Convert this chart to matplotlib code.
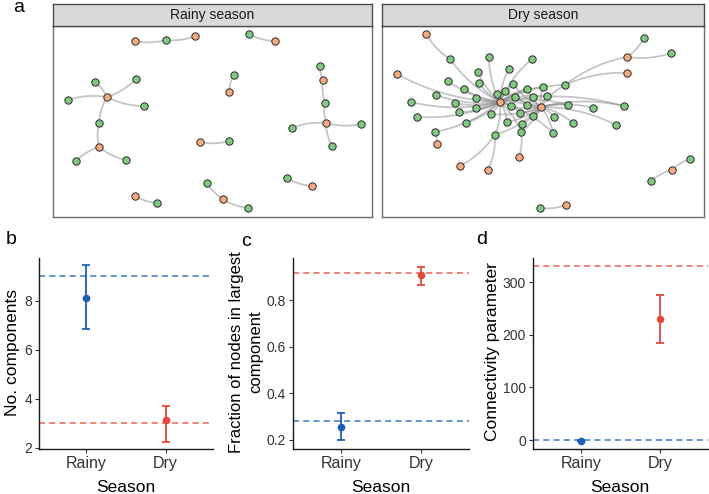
import numpy as np
import matplotlib
matplotlib.use("Agg")
import matplotlib.pyplot as plt

plt.rcParams['font.family'] = ['Liberation Sans', 'DejaVu Sans']

W, H = 709, 494

# ---- network data (node positions, pixel units) ----
rainy_x = [135, 166, 195, 249, 275, 107, 95, 136, 68, 144, 99, 99, 76, 126, 234, 229,
           320, 323, 325, 326, 292, 361, 332, 200, 229, 287, 312, 135, 157, 207, 223, 248]
rainy_y = [41, 40, 36, 34, 41, 97, 82, 79, 100, 106, 123, 147, 161, 160, 75, 92,
           66, 80, 103, 123, 128, 124, 146, 142, 141, 178, 186, 196, 203, 183, 199, 208]
rainy_kind = ['o', 'g', 'o', 'g', 'o', 'o', 'g', 'g', 'g', 'g', 'g', 'o', 'g', 'g', 'g', 'o',
              'g', 'o', 'g', 'o', 'g', 'g', 'g', 'o', 'g', 'g', 'o', 'o', 'g', 'g', 'o', 'g']
rainy_edges = [(0, 1), (1, 2), (3, 4), (5, 6), (5, 7), (5, 8), (5, 9), (5, 10), (10, 11),
               (11, 12), (11, 13), (14, 15), (16, 17), (17, 18), (18, 19), (19, 20),
               (19, 21), (19, 22), (23, 24), (25, 26), (27, 28), (29, 30), (30, 31)]

dry_x = [500, 541, 426, 397, 437, 460, 488, 519, 627, 627, 672, 566,
         450, 489, 532, 478, 509, 448, 479, 464, 513, 527, 543, 436, 476, 497, 505, 515,
         533, 547, 411, 455, 476, 511, 527, 417, 459, 491, 520, 533, 466, 507, 522, 435,
         521, 553, 495, 644, 671, 565, 568, 593, 624, 554, 573, 616, 690, 651, 540]
dry_y = [102, 107, 34, 74, 144, 166, 170, 157, 57, 73, 170, 205,
         59, 57, 59, 72, 69, 81, 83, 89, 84, 89, 87, 95, 98, 94, 91, 97,
         97, 96, 102, 103, 108, 106, 105, 117, 112, 114, 113, 116, 123, 122, 124, 132,
         132, 133, 135, 38, 53, 85, 105, 108, 106, 117, 123, 125, 159, 181, 208]
dry_kind = ['o'] * 12 + ['g'] * 47
dry_edges = [(2, 12), (12, 0), (3, 0), (13, 0), (14, 0), (15, 0), (16, 0), (17, 0),
             (18, 0), (19, 0), (20, 0), (20, 1), (21, 1), (21, 0), (22, 1), (22, 0),
             (23, 0), (24, 0), (25, 0), (26, 0), (26, 1), (27, 1), (27, 0), (28, 1),
             (29, 1), (29, 0), (30, 0), (31, 0), (32, 0), (33, 0), (33, 1), (34, 1),
             (34, 0), (35, 0), (36, 0), (37, 0), (37, 1), (38, 1), (38, 0), (39, 1),
             (40, 0), (41, 0), (41, 1), (42, 1), (43, 0), (4, 43), (44, 1), (44, 0),
             (7, 44), (45, 1), (45, 0), (46, 0), (46, 1), (5, 46), (6, 46),
             (49, 0), (49, 1), (8, 49), (9, 49), (8, 47), (8, 48),
             (50, 1), (51, 1), (52, 1), (53, 1), (54, 1), (55, 1), (50, 0), (52, 0),
             (56, 10), (10, 57), (58, 11)]

# ---- summary data ----
seasons = ['Rainy', 'Dry']
comp_mean = [8.13, 3.15]
comp_lo = [6.86, 2.22]
comp_hi = [9.48, 3.72]
comp_null = [9, 3]

frac_mean = [0.257, 0.907]
frac_lo = [0.198, 0.866]
frac_hi = [0.316, 0.943]
frac_null = [0.282, 0.916]

conn_mean = [-1, 231]
conn_lo = [-2, 185]
conn_hi = [0, 275]
conn_null = [0, 331]

season_colors = ['#1d5fb8', '#e2493b']
node_colors = {'o': '#f4aa7e', 'g': '#82c880'}


def px_axes(fig, x0, y0, x1, y1):
    return fig.add_axes([x0 / W, (H - y1) / H, (x1 - x0) / W, (y1 - y0) / H])


def arc(p, q, bend=0.12, n=24):
    t = np.linspace(0, 1, n)[:, None]
    d = q - p
    c = (p + q) / 2 + bend * np.array([-d[1], d[0]])
    return (1 - t) ** 2 * p + 2 * (1 - t) * t * c + t ** 2 * q


def draw_network(fig, box, title, xs, ys, kinds, edges):
    x0, y0, x1, y1 = box
    ax = px_axes(fig, x0, y0, x1, y1)
    ax.set_xlim(x0, x1)
    ax.set_ylim(y1, y0)
    pts = np.column_stack([xs, ys]).astype(float)
    for i, j in edges:
        c = arc(pts[i], pts[j])
        ax.plot(c[:, 0], c[:, 1], color='#8c8c8c', lw=1.3, alpha=0.5,
                solid_capstyle='round', zorder=1)
    for k in ['g', 'o']:
        idx = [i for i in range(len(kinds)) if kinds[i] == k]
        ax.plot(pts[idx, 0], pts[idx, 1], 'o', ms=5.3, mfc=node_colors[k],
                mec='#2b2b2b', mew=0.7, zorder=3)
    ax.set_xticks([])
    ax.set_yticks([])
    for s in ax.spines.values():
        s.set_color('#6e6e6e')
        s.set_linewidth(1.0)
    st = px_axes(fig, x0, 4, x1, y0)
    st.set_facecolor('#d9d9d9')
    st.set_xticks([])
    st.set_yticks([])
    for s in st.spines.values():
        s.set_color('#4d4d4d')
        s.set_linewidth(1.0)
    st.text(0.5, 0.48, title, ha='center', va='center', fontsize=10,
            color='#1a1a1a', transform=st.transAxes)


def draw_summary(fig, box, means, lo, hi, null, ylim, yticks, yticklabels):
    ax = px_axes(fig, *box)
    xpos = np.arange(1, len(seasons) + 1)
    for i in range(len(seasons)):
        ax.axhline(null[i], color=season_colors[i], lw=1.1, ls=(0, (4, 2.7)),
                   alpha=0.85, zorder=1)
        ax.errorbar(xpos[i], means[i],
                    yerr=[[means[i] - lo[i]], [hi[i] - means[i]]],
                    fmt='o', color=season_colors[i], ms=4.5, elinewidth=1.3,
                    capsize=3, capthick=1.3, zorder=3)
    ax.set_xlim(0.4, 2.6)
    ax.set_ylim(*ylim)
    ax.set_xticks(xpos)
    ax.set_xticklabels(seasons)
    ax.set_yticks(yticks)
    ax.set_yticklabels(yticklabels)
    ax.tick_params(length=3, width=0.8, color='#333333', labelcolor='#333333', pad=2)
    ax.tick_params(axis='x', labelsize=11.5)
    ax.tick_params(axis='y', labelsize=10)
    for s in ['top', 'right']:
        ax.spines[s].set_visible(False)
    for s in ['left', 'bottom']:
        ax.spines[s].set_linewidth(1.0)
        ax.spines[s].set_color('#1a1a1a')
    return ax


fig = plt.figure(figsize=(W / 100, H / 100), dpi=100)

draw_network(fig, (53, 26, 372, 217), 'Rainy season', rainy_x, rainy_y, rainy_kind, rainy_edges)
draw_network(fig, (382, 26, 704, 217), 'Dry season', dry_x, dry_y, dry_kind, dry_edges)

draw_summary(fig, (39, 258, 213, 449), comp_mean, comp_lo, comp_hi, comp_null,
             (1.95, 9.75), [2, 4, 6, 8], ['2', '4', '6', '8'])
draw_summary(fig, (293, 258, 469, 449), frac_mean, frac_lo, frac_hi, frac_null,
             (0.161, 0.981), [0.2, 0.4, 0.6, 0.8], ['0.2', '0.4', '0.6', '0.8'])
draw_summary(fig, (533, 258, 708, 449), conn_mean, conn_lo, conn_hi, conn_null,
             (-17, 346), [0, 100, 200, 300], ['0', '100', '200', '300'])

# axis titles
for xc in [126, 381, 620]:
    fig.text(xc / W, 1 - 487 / H, 'Season', ha='center', va='center', fontsize=12.5)
fig.text(12 / W, 1 - 352 / H, 'No. components', rotation=90, ha='center',
         va='center', fontsize=12.5)
fig.text(246 / W, 1 - 352 / H, 'Fraction of nodes in largest\ncomponent', rotation=90,
         ha='center', va='center', fontsize=12, linespacing=1.3)
fig.text(493 / W, 1 - 352 / H, 'Connectivity parameter', rotation=90, ha='center',
         va='center', fontsize=12.5)

# panel letters
for lab, x, y in [('a', 19, 8), ('b', 11, 240), ('c', 246, 241), ('d', 482, 239)]:
    fig.text(x / W, 1 - y / H, lab, ha='center', va='center', fontsize=14)

fig.savefig('out.png', dpi=100)
